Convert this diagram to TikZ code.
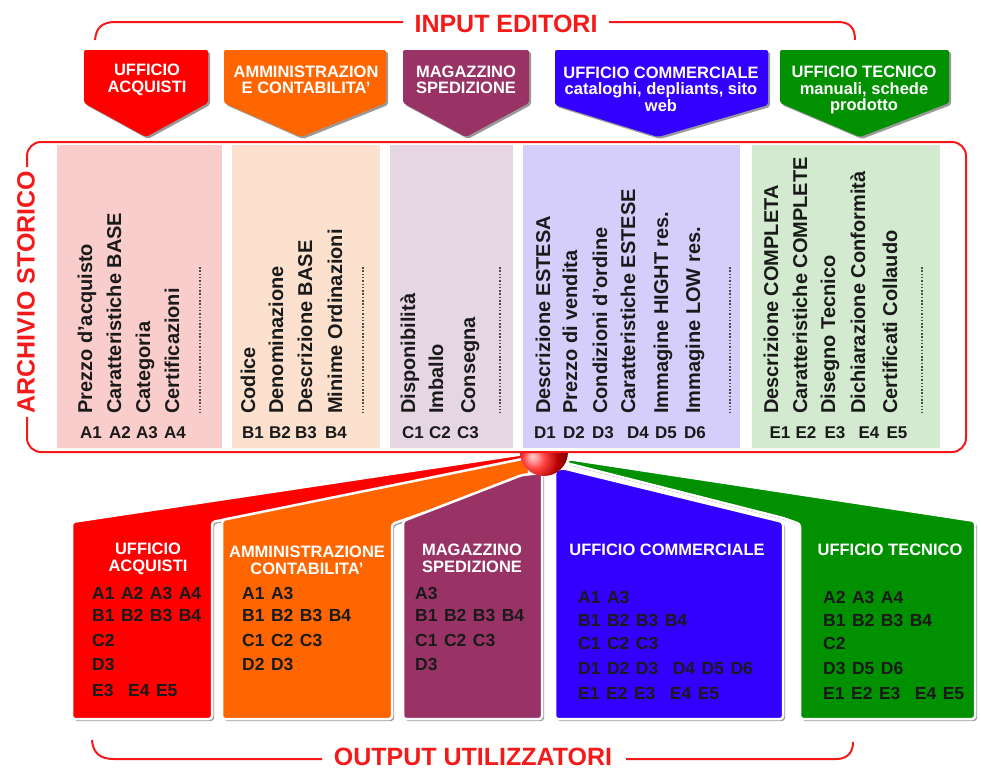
\documentclass[tikz,border=0pt]{standalone}
\usepackage{fontspec}
\setmainfont{Liberation Sans}
\usetikzlibrary{shadows}
\definecolor{cRed}{HTML}{FF0000}
\definecolor{cOrange}{HTML}{FF6600}
\definecolor{cPurple}{HTML}{993366}
\definecolor{cBlue}{HTML}{3300FF}
\definecolor{cGreen}{HTML}{009000}
\definecolor{pRed}{HTML}{FACDCD}
\definecolor{pOrange}{HTML}{FCE2CE}
\definecolor{pPurple}{HTML}{E6D6E4}
\definecolor{pBlue}{HTML}{D6CEFA}
\definecolor{pGreen}{HTML}{D4EAD0}
\definecolor{lineRed}{HTML}{F51A1A}
\definecolor{ink}{HTML}{1A1A1A}
\newcommand\codefont{\fontsize{17.5}{17.5}\selectfont\bfseries\spaceskip 6.5pt\relax}
\newcommand\gapx{\kern 8pt}
\begin{document}
\begin{tikzpicture}[x=1pt, y=-1pt,
  shapeshadow/.style={drop shadow={shadow xshift=2pt, shadow yshift=-2pt, opacity=0.4, fill=black}},
  topshape/.style={rounded corners=2pt, shapeshadow},
  botshape/.style={rounded corners=3pt, draw=white, line width=2.5pt, shapeshadow},
  tophdr/.style={text=white, font=\fontsize{16.5}{16.5}\selectfont\bfseries, align=center, inner sep=0pt},
  bothdr/.style={text=white, font=\fontsize{16.5}{17}\selectfont\bfseries, align=center, inner sep=0pt},
  vtext/.style={rotate=90, anchor=west, font=\fontsize{20}{20}\selectfont\bfseries, text=ink, inner sep=0pt, text height=14.5pt, text depth=4.2pt},
  acode/.style={font=\fontsize{17}{17}\selectfont\bfseries, text=ink, inner sep=0pt, text height=12.5pt, text depth=0pt},
  bcode/.style={font=\codefont, text=ink, inner sep=0pt, anchor=west, text height=12.5pt, text depth=0pt},
  dotcol/.style={draw=black!70, line width=2pt, dash pattern=on 1.5pt off 1.8pt},
  title/.style={text=lineRed, font=\fontsize{25}{25}\selectfont\bfseries, inner sep=0pt},
  bracket/.style={draw=lineRed, line width=2pt},
]
\useasboundingbox (0,0) rectangle (981,771);

% ---------- top bracket ----------
\node[title] (inp) at (506,24) {INPUT EDITORI};
\draw[bracket] (95,40) .. controls (96,28) and (102,22) .. (115,22) -- (403,22);
\draw[bracket] (609,22) -- (838,22) .. controls (850,22) and (855,28) .. (855,40);

% ---------- top arrows ----------
\fill[cRed, topshape] (84,50) -- (208,50) -- (208,103) -- (146,137) -- (84,103) -- cycle;
\fill[cOrange, topshape] (224,50) -- (386,50) -- (386,103) -- (301,137) -- (224,103) -- cycle;
\fill[cPurple, topshape] (403,50) -- (529,50) -- (529,103) -- (466,137) -- (403,103) -- cycle;
\fill[cBlue, topshape] (555,50) -- (768,50) -- (768,105) -- (658,137) -- (555,105) -- cycle;
\fill[cGreen, topshape] (780,50) -- (949,50) -- (949,103) -- (860,137) -- (780,103) -- cycle;

\node[tophdr] (tr) at (147,80) {UFFICIO\\ACQUISTI};
\node[tophdr] (to) at (306,80) {AMMINISTRAZION\\E CONTABILITA'};
\node[tophdr] (tp) at (466,80) {MAGAZZINO\\SPEDIZIONE};
\node[tophdr] (tb) at (661,89) {UFFICIO COMMERCIALE\\cataloghi, depliants, sito\\web};
\node[tophdr] (tg) at (864,90) {UFFICIO TECNICO\\manuali, schede\\prodotto};

% ---------- archive panels ----------
\fill[pRed] (57,145) rectangle (222,448);
\fill[pOrange] (232,145) rectangle (380,448);
\fill[pPurple] (390,145) rectangle (513,448);
\fill[pBlue] (523,145) rectangle (740,448);
\fill[pGreen] (752,145) rectangle (940,448);

\foreach \xx/\txt [count=\i] in {87/Prezzo d'acquisto, 116/Caratteristiche BASE, 145/Categoria, 174/Certificazioni}
  \node[vtext] (va\i) at (\xx,414) {\txt};
\foreach \xx/\txt [count=\i] in {250/Codice, 278/Denominazione, 307/Descrizione BASE, 337/Minime Ordinazioni}
  \node[vtext] (vb\i) at (\xx,414) {\txt};
\foreach \xx/\txt [count=\i] in {410/Disponibilità, 438/Imballo, 470/Consegna}
  \node[vtext] (vc\i) at (\xx,414) {\txt};
\foreach \xx/\txt [count=\i] in {545/Descrizione ESTESA, 572/Prezzo di vendita, 602/Condizioni d'ordine, 630/Caratteristiche ESTESE, 663/Immagine HIGHT res., 695/Immagine LOW res.}
  \node[vtext] (vd\i) at (\xx,414) {\txt};
\foreach \xx/\txt [count=\i] in {773/Descrizione COMPLETA, 802/Caratteristiche COMPLETE, 830/Disegno Tecnico, 860/Dichiarazione Conformità, 892/Certificati Collaudo}
  \node[vtext] (ve\i) at (\xx,414) {\txt};

\foreach \xx in {200,363,500,730,922}
  \draw[dotcol] (\xx,267) -- (\xx,413);

\foreach \xx/\txt [count=\i] in {91/A1, 120/A2, 147/A3, 175/A4, 253/B1, 280/B2, 306/B3, 336/B4, 413/C1, 440/C2, 468/C3, 545/D1, 574/D2, 603/D3, 638/D4, 666/D5, 695/D6, 780/E1, 806/E2, 835/E3, 869/E4, 897/E5}
  \node[acode] (code\i) at (\xx,432) {\txt};

% ---------- output shapes ----------
\fill[cRed, botshape] (72,719) -- (72,522) -- (524,454) -- (527,462) -- (212,522) -- (212,719) -- cycle;
\fill[cOrange, botshape] (222,719) -- (222,520) -- (527,458) -- (530,476) -- (392,524) -- (392,719) -- cycle;
\fill[cPurple, botshape] (403,719) -- (403,521) -- (522,475) -- (542,473) -- (542,719) -- cycle;
\fill[cGreen, botshape] (800,719) -- (800,524) -- (783,518) -- (566,463) -- (568,459) -- (975,521) -- (975,719) -- cycle;
\fill[cBlue, botshape] (555,719) -- (555,471) -- (562,468) -- (783,522) -- (783,719) -- cycle;

% sphere
\begin{scope}
  \clip (544,452) circle[radius=24pt];
  \clip (515,452) rectangle (575,480);
  \shade[ball color=red] (544,468) circle[radius=30pt];
\end{scope}

% archive frame
\draw[lineRed, line width=2pt, rounded corners=14pt] (27,142) rectangle (966,452);
\node[title, rotate=90, fill=white, inner xsep=4pt, inner ysep=2pt] (arch) at (26,292) {ARCHIVIO STORICO};

% output headers
\node[bothdr] (br) at (148,558.5) {UFFICIO\\ACQUISTI};
\node[bothdr] (bo) at (307,560.5) {AMMINISTRAZIONE\\CONTABILITA'};
\node[bothdr] (bp) at (472,558.5) {MAGAZZINO\\SPEDIZIONE};
\node[bothdr] (bb) at (667,550) {UFFICIO COMMERCIALE};
\node[bothdr] (bg) at (890,550) {UFFICIO TECNICO};

\foreach \yy/\txt [count=\i] in {593/A1 A2 A3 A4, 615/B1 B2 B3 B4, 640/C2, 664/D3, 690/E3\gapx{} E4 E5}
  \node[bcode] (rc\i) at (92,\yy) {\txt};
\foreach \yy/\txt [count=\i] in {593/A1 A3, 615/B1 B2 B3 B4, 640/C1 C2 C3, 664/D2 D3}
  \node[bcode] (oc\i) at (242,\yy) {\txt};
\foreach \yy/\txt [count=\i] in {593/A3, 615/B1 B2 B3 B4, 640/C1 C2 C3, 664/D3}
  \node[bcode] (pc\i) at (415,\yy) {\txt};
\foreach \yy/\txt [count=\i] in {597/A1 A3, 620/B1 B2 B3 B4, 643/C1 C2 C3, 668/D1 D2 D3\gapx{} D4 D5 D6, 693/E1 E2 E3\gapx{} E4 E5}
  \node[bcode] (bc\i) at (578,\yy) {\txt};
\foreach \yy/\txt [count=\i] in {597/A2 A3 A4, 620/B1 B2 B3 B4, 643/C2, 668/D3 D5 D6, 693/E1 E2 E3\gapx{} E4 E5}
  \node[bcode] (gc\i) at (823,\yy) {\txt};

% ---------- bottom bracket ----------
\node[title] (out) at (473,757) {OUTPUT UTILIZZATORI};
\draw[bracket] (92,740) .. controls (93,753) and (100,759) .. (114,759) -- (322,759);
\draw[bracket] (626,759) -- (836,759) .. controls (848,759) and (853,752) .. (853,742);
\end{tikzpicture}
\end{document}
